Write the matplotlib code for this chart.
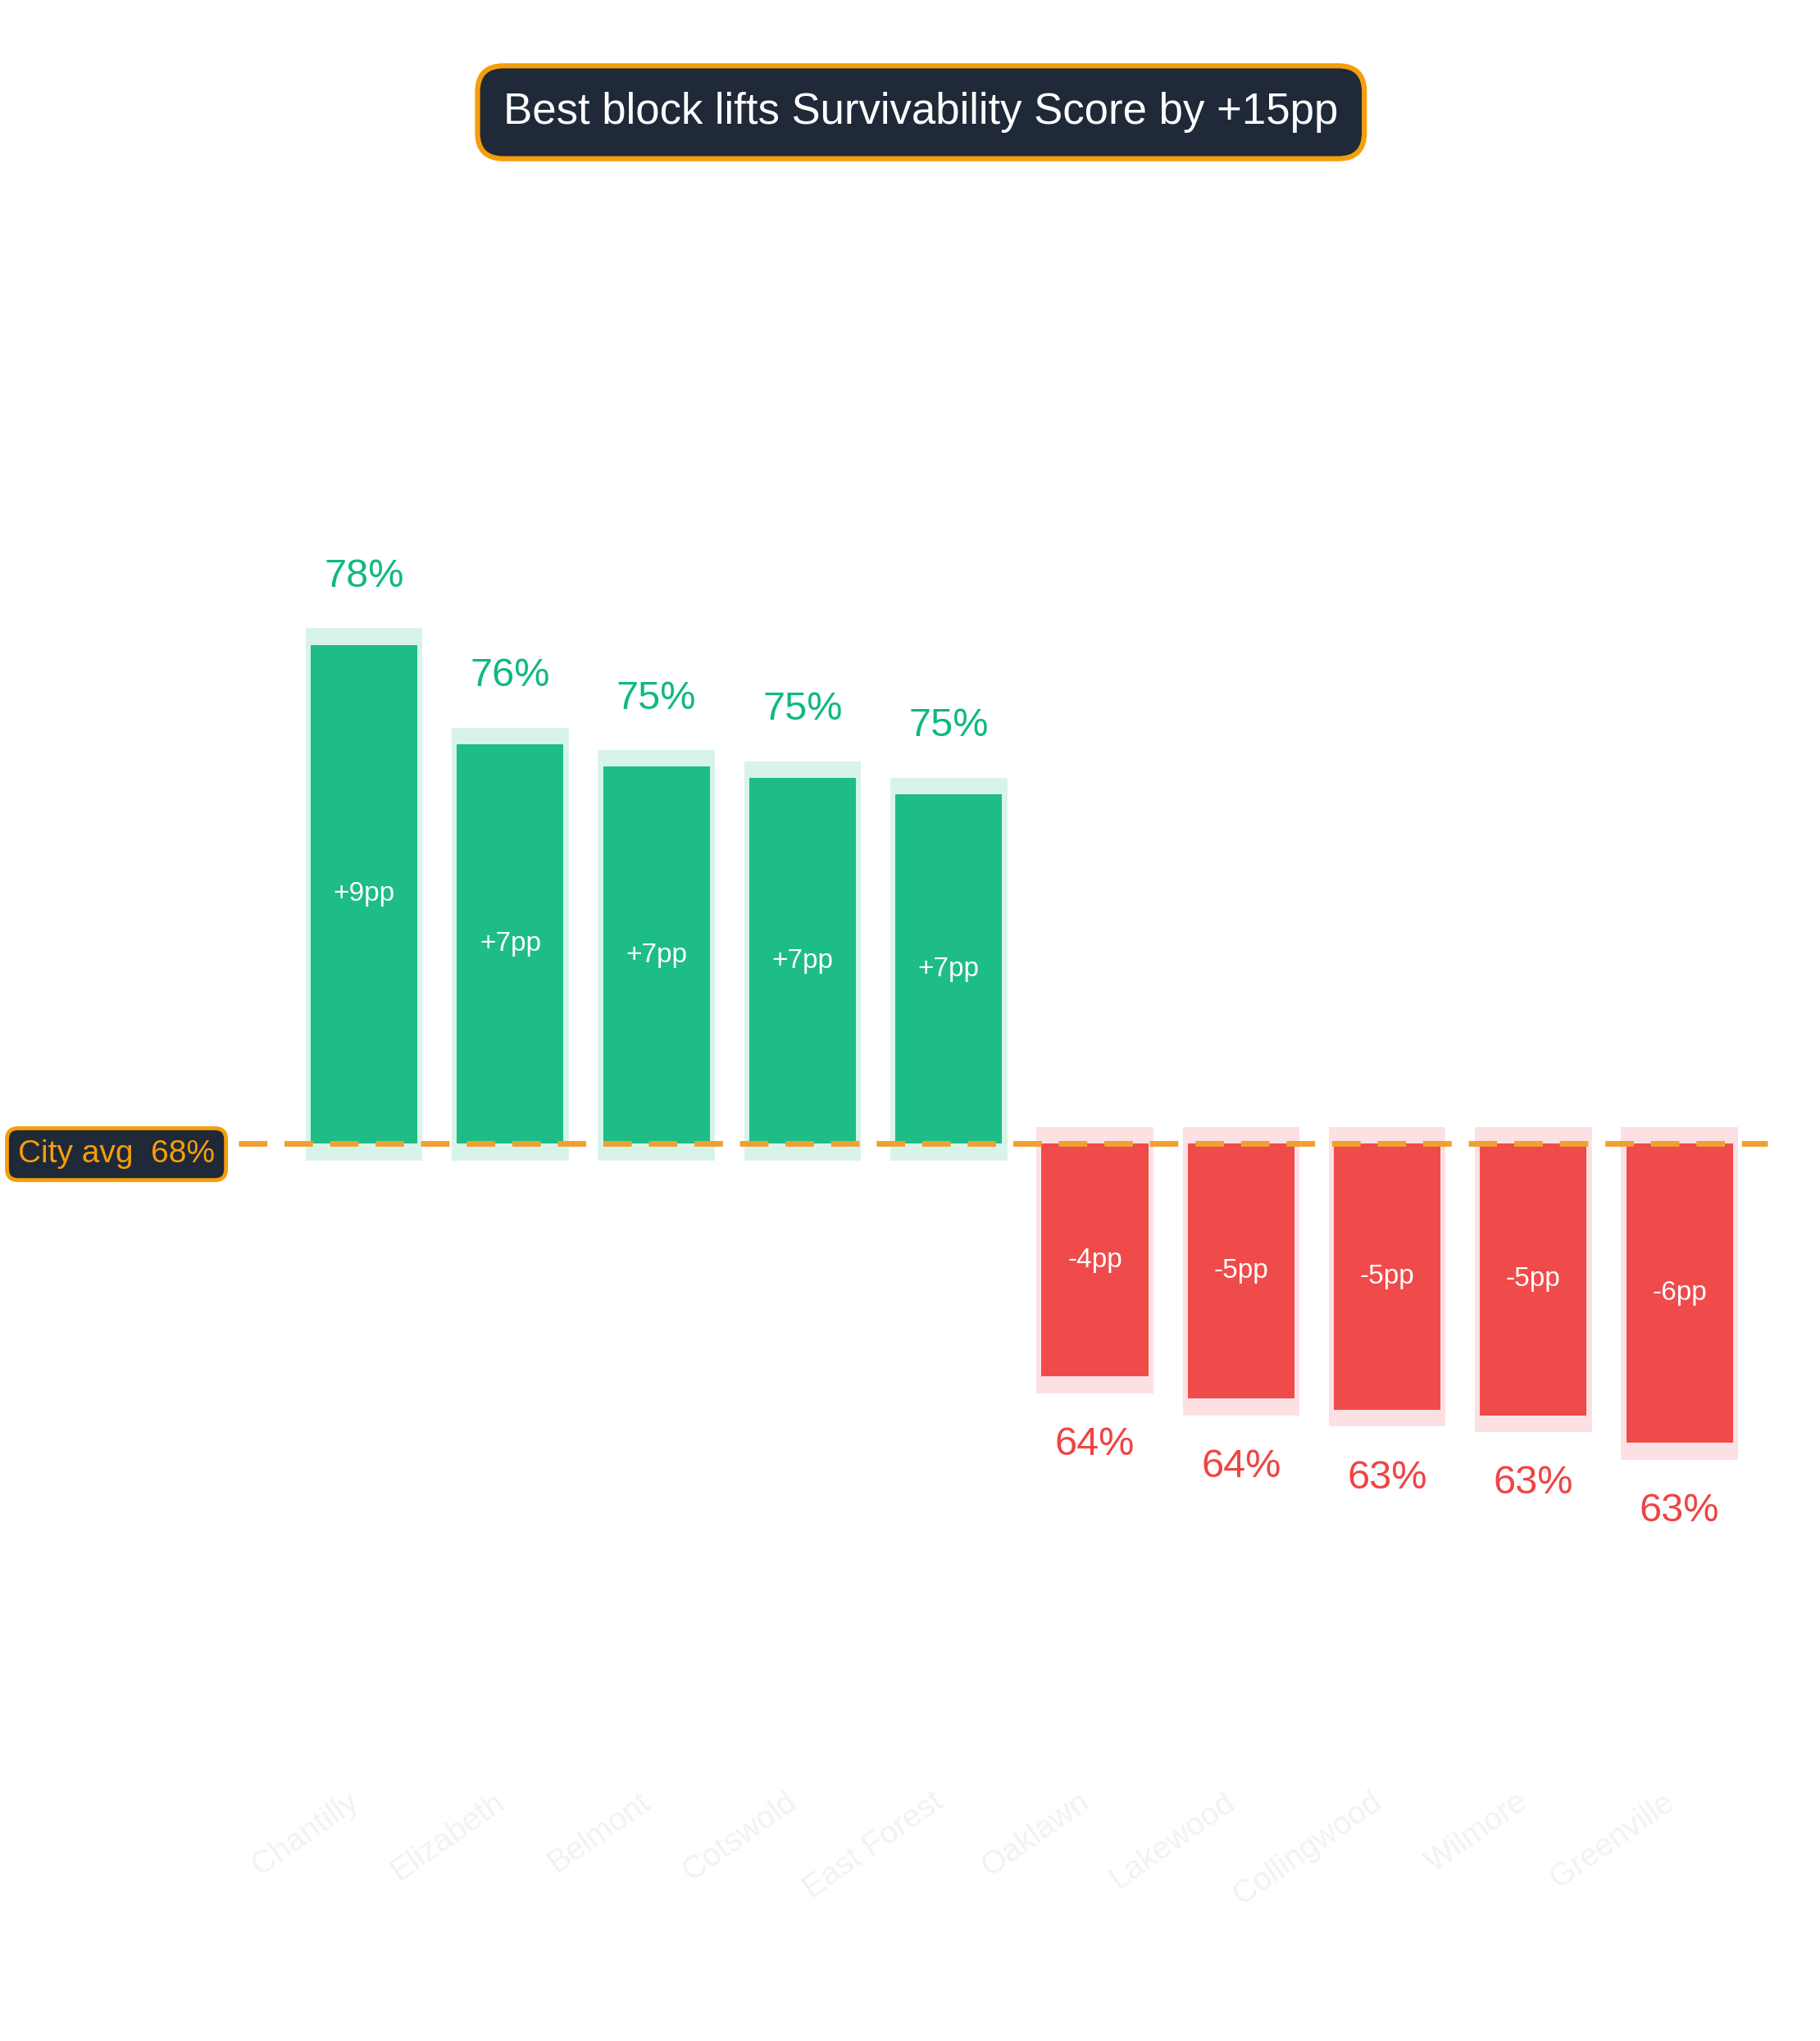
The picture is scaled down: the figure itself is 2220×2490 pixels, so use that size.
import matplotlib
matplotlib.use("Agg")
import matplotlib.pyplot as plt

categories = ["Chantilly", "Elizabeth", "Belmont", "Cotswold", "East Forest",
              "Oaklawn", "Lakewood", "Collingwood", "Wilmore", "Greenville"]
scores = [77.4, 75.6, 75.2, 75.0, 74.7, 64.2, 63.8, 63.6, 63.5, 63.0]
score_labels = ["78%", "76%", "75%", "75%", "75%", "64%", "64%", "63%", "63%", "63%"]
delta_labels = ["+9pp", "+7pp", "+7pp", "+7pp", "+7pp", "-4pp", "-5pp", "-5pp", "-5pp", "-6pp"]
city_avg = 68.4
avg_label = "City avg  68%"
title = "Best block lifts Survivability Score by +15pp"

plt.rcParams['font.family'] = ['Liberation Sans', 'DejaVu Sans']
fig = plt.figure(figsize=(22.2, 24.9), dpi=100)
ax = fig.add_axes([0.131, 0.1355, 0.84, 0.774])
ax.set_xlim(-0.86, 9.6)
ax.set_ylim(57.2, 85.7)
for s in ax.spines.values():
    s.set_visible(False)
ax.set_yticks([])

GREEN, RED = "#1dbd85", "#ef4b4b"
for i, (c, v) in enumerate(zip(categories, scores)):
    up = v >= city_avg
    col = GREEN if up else RED
    halo = "#d8f4ea" if up else "#fde0e3"
    pad = 0.3
    lo, hi = (city_avg - pad, v + pad) if up else (v - pad, city_avg + pad)
    ax.bar(i, hi - lo, bottom=lo, width=0.8, color=halo, zorder=1)
    ax.bar(i, v - city_avg, bottom=city_avg, width=0.73, color=col, zorder=2)
    ax.text(i, (v + city_avg) / 2, delta_labels[i], ha="center", va="center",
            color="white", fontsize=24, zorder=4)
    if up:
        ax.text(i, v + 0.9, score_labels[i], ha="center", va="bottom",
                color="#10b981", fontsize=35)
    else:
        ax.text(i, v - 0.9, score_labels[i], ha="center", va="top",
                color="#ef4444", fontsize=35)

ax.axhline(city_avg, color="#f0a030", lw=5, ls=(0, (5, 3)), zorder=3, clip_on=False)

ax.set_xticks(range(len(categories)))
ax.set_xticklabels(categories, rotation=35, ha="right", color="#f2f2f2", fontsize=28)
ax.tick_params(axis="x", length=0, pad=20)

fig.text(0.064, 0.4345, avg_label, ha="center", va="center", color="#f59e0b", fontsize=28,
         bbox=dict(boxstyle="round,pad=0.35", fc="#1f2937", ec="#f59e0b", lw=3.5))
fig.text(0.506, 0.945, title, ha="center", va="center", color="white", fontsize=38,
         bbox=dict(boxstyle="round,pad=0.6", fc="#1f2937", ec="#f59e0b", lw=4.5))

fig.savefig("out.png", dpi=100, facecolor="white")
